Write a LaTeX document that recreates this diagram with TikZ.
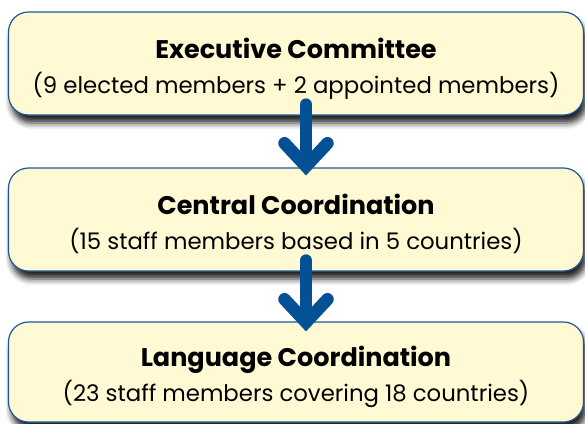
\documentclass[tikz,border=0pt]{standalone}
\usepackage{fontspec}
\setmainfont{Poppins}
\usepackage{xcolor}
\usetikzlibrary{arrows.meta, positioning, shadows.blur}

\definecolor{boxfill}{RGB}{255,249,212}
\definecolor{boxline}{RGB}{28,88,150}
\definecolor{flowblue}{RGB}{4,80,148}
\newcommand{\unithead}[1]{\rule{0pt}{30pt}{\fontsize{25.5}{35}\selectfont\bfseries #1}}

\begin{document}
\begin{tikzpicture}[
  x=1pt, y=-1pt,
  unit/.style={draw=boxline, line width=1.2pt, fill=boxfill, rounded corners=20pt,
    minimum width=575pt, minimum height=103pt, align=center, inner sep=0pt,
    font=\fontsize{22.8}{35}\selectfont,
    blur shadow={shadow xshift=3pt, shadow yshift=-8pt, shadow blur radius=6pt, shadow opacity=85}},
  flow/.style={draw=flowblue, line width=12.5pt, line cap=round,
    -{Straight Barb[length=23pt, width=43pt, line cap=round, line join=miter]},
    preaction={draw=black, opacity=0.22, transform canvas={xshift=4pt, yshift=-3pt}}},
]
  \useasboundingbox (0,0) rectangle (585,423);

  \node[unit] (exec)    at (296,63.5)  {\unithead{Executive Committee}\\(9 elected members + 2 appointed members)};
  \node[unit] (central) at (296,219.5) {\unithead{Central Coordination}\\(15 staff members based in 5 countries)};
  \node[unit, minimum height=100pt] (lang) at (296,372) {\unithead{Language Coordination}\\(23 staff members covering 18 countries)};

  \draw[flow] ([xshift=10pt, yshift=11pt]exec.south) -- ([xshift=10pt, yshift=-8pt]central.north);
  \draw[flow] ([xshift=10pt, yshift=11pt]central.south) -- ([xshift=10pt, yshift=-10pt]lang.north);
\end{tikzpicture}
\end{document}
